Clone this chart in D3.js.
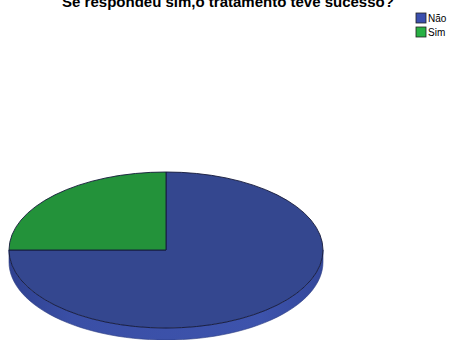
<!DOCTYPE html>
<html>
<head>
<meta charset="utf-8">
<script src="https://cdn.jsdelivr.net/npm/d3@7"></script>
<style>
  html, body { margin: 0; padding: 0; background: #fff; }
  svg { display: block; }
</style>
</head>
<body>
<svg id="chart" width="452" height="340"></svg>
<script>
// Answers and their shares
const categories = ["Não", "Sim"];
const values = [75, 25];
const colors = ["#34478f", "#23923a"];
const sideColors = ["#3b50a6", "#1f8033"];
const legendColors = ["#3b4fae", "#28b043"];
const title = "Se respondeu sim,o tratamento teve sucesso?";

const svg = d3.select("#chart");

// Ellipse geometry of the tilted pie
const cx = 166, cy = 250, rx = 157, ry = 78, depth = 12;

const data = categories.map((c, i) => ({
  name: c, value: values[i], color: colors[i], side: sideColors[i], legend: legendColors[i]
}));
const pie = d3.pie().value(d => d.value).sort(null);
const arcs = pie(data);

const px = a => cx + rx * Math.sin(a);
const py = a => cy - ry * Math.cos(a);

const defs = svg.append("defs");
const grad = defs.append("linearGradient").attr("id", "sideGrad")
  .attr("x1", "0").attr("x2", "1").attr("y1", "0").attr("y2", "0");
grad.append("stop").attr("offset", "0%").attr("stop-color", "#2f4190");
grad.append("stop").attr("offset", "20%").attr("stop-color", "#3a4fa6");
grad.append("stop").attr("offset", "80%").attr("stop-color", "#3d53ac");
grad.append("stop").attr("offset", "100%").attr("stop-color", "#33479a");

// Side walls: only the front half (angles between π/2 and 3π/2) is visible
const sideG = svg.append("g");
arcs.forEach(a => {
  const s = Math.max(a.startAngle, Math.PI / 2);
  const e = Math.min(a.endAngle, 3 * Math.PI / 2);
  if (e <= s) return;
  const n = 60;
  const top = d3.range(n + 1).map(k => s + (e - s) * k / n);
  const p = d3.path();
  top.forEach((t, k) => k === 0 ? p.moveTo(px(t), py(t)) : p.lineTo(px(t), py(t)));
  top.slice().reverse().forEach(t => p.lineTo(px(t), py(t) + depth));
  p.closePath();
  sideG.append("path")
    .attr("d", p.toString())
    .attr("fill", a.data.name === "Não" ? "url(#sideGrad)" : a.data.side)
    .attr("stroke", "#2a3a80")
    .attr("stroke-width", 0.6);
});

// Top faces: circular arcs squashed into an ellipse
const arcGen = d3.arc().innerRadius(0).outerRadius(rx);
svg.append("g")
  .attr("transform", `translate(${cx},${cy}) scale(1,${ry / rx})`)
  .selectAll("path")
  .data(arcs)
  .join("path")
  .attr("d", arcGen)
  .attr("fill", d => d.data.color)
  .attr("stroke", "#151a3a")
  .attr("stroke-width", 0.9)
  .attr("vector-effect", "non-scaling-stroke")
  .attr("stroke-linejoin", "round");

// Title
svg.append("text")
  .attr("x", 228)
  .attr("y", 7)
  .attr("text-anchor", "middle")
  .attr("font-family", "Liberation Sans, Arial, sans-serif")
  .attr("font-weight", "bold")
  .attr("font-size", 15)
  .attr("fill", "#000")
  .text(title);

// Legend
const legend = svg.append("g").attr("transform", "translate(416,13)");
const item = legend.selectAll("g").data(data).join("g")
  .attr("transform", (d, i) => `translate(0,${i * 14})`);
item.append("rect")
  .attr("width", 10).attr("height", 10)
  .attr("fill", d => d.legend)
  .attr("stroke", "#222").attr("stroke-width", 0.8);
item.append("text")
  .attr("x", 12).attr("y", 9)
  .attr("font-family", "Liberation Sans, Arial, sans-serif")
  .attr("font-size", 10)
  .attr("fill", "#000")
  .text(d => d.name);
</script>
</body>
</html>
